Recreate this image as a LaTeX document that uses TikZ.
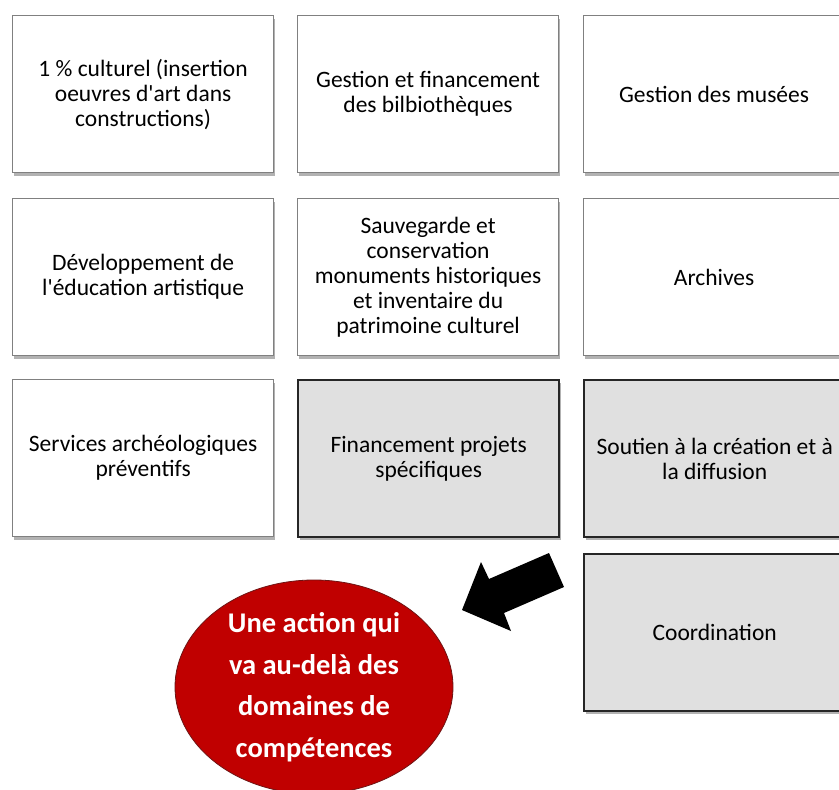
\documentclass[tikz,border=0pt]{standalone}
\usepackage{fontspec}
\setmainfont{Carlito}
\usetikzlibrary{shadows,shapes.geometric}
\definecolor{boxgray}{RGB}{224,224,224}
\definecolor{ovalred}{RGB}{192,0,0}
\definecolor{ovaledge}{RGB}{110,20,20}
\begin{document}
\begin{tikzpicture}[x=1pt,y=-1pt,
  shad/.style={drop shadow={shadow xshift=1.5pt,shadow yshift=-3pt,opacity=0.3,fill=black}},
  wbox/.style={draw=black!50, line width=1.2pt, fill=white, minimum width=261pt,
    minimum height=157pt, align=center, inner sep=0pt, anchor=north west,
    font=\fontsize{23.5}{25}\selectfont, shad},
  gbox/.style={wbox, draw=black!85, line width=2.4pt, fill=boxgray},
  oval/.style={ellipse, fill=ovalred, draw=ovaledge, line width=0.8pt,
    minimum width=278pt, minimum height=214pt, inner sep=0pt, align=center,
    text=white, font=\bfseries\fontsize{28.5}{41.5}\selectfont}
]
\useasboundingbox (0,0) rectangle (839,790);
\clip (0,0) rectangle (839,790);
\fill[white] (0,0) rectangle (839,790);

\node[wbox] (b11) at (12,15) {1 \% culturel (insertion\\oeuvres d\textquotesingle art dans\\constructions)};
\node[wbox] (b12) at (297,15) {Gestion et financement\\des bilbiothèques};
\node[wbox] (b13) at (583,15) {Gestion des musées};

\node[wbox] (b21) at (12,198) {Développement de\\l\textquotesingle éducation artistique};
\node[wbox] (b22) at (297,198) {Sauvegarde et\\conservation\\monuments historiques\\et inventaire du\\patrimoine culturel};
\node[wbox] (b23) at (583,198) {Archives};

\node[wbox] (b31) at (12,379) {Services archéologiques\\préventifs};
\node[gbox] (b32) at (297,379) {Financement projets\\spécifiques};
\node[gbox] (b33) at (583,379) {Soutien à la création et à\\la diffusion};

\node[gbox] (b43) at (583,553) {Coordination};

\node[oval] (oval) at (314,687) {Une action qui\\va au-delà des\\domaines de\\compétences};

\fill[black] (549,553) -- (564,587) -- (504,613) -- (511,631) -- (462,610)
  -- (481,562) -- (489,579) -- cycle;
\end{tikzpicture}
\end{document}
